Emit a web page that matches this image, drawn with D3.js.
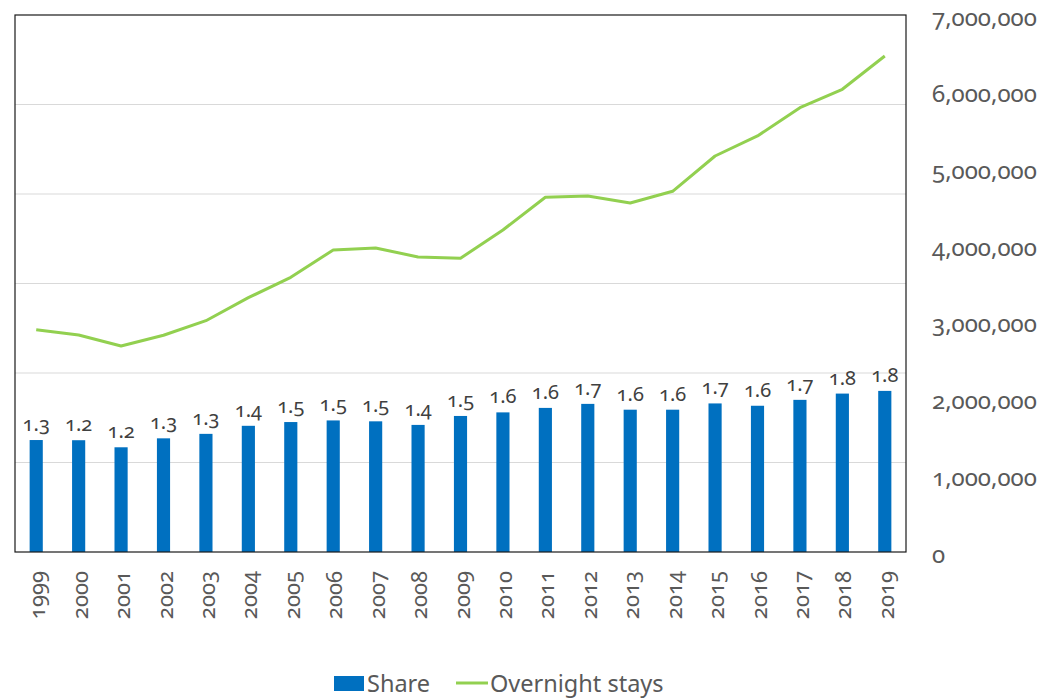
<!DOCTYPE html>
<html>
<head>
<meta charset="utf-8">
<script src="https://cdn.jsdelivr.net/npm/d3@7"></script>
<style>
  html, body { margin: 0; padding: 0; background: #fff; }
  svg { display: block; }
  text { font-family: "Noto Sans", "Open Sans", sans-serif; font-variant-numeric: oldstyle-nums; }
</style>
</head>
<body>
<svg id="chart" width="1047" height="700"></svg>
<script>
const years = ["1999","2000","2001","2002","2003","2004","2005","2006","2007","2008","2009","2010","2011","2012","2013","2014","2015","2016","2017","2018","2019"];
const share = [1.251, 1.249, 1.17, 1.27, 1.32, 1.41, 1.452, 1.47, 1.46, 1.42, 1.52, 1.56, 1.61, 1.655, 1.59, 1.59, 1.66, 1.634, 1.70, 1.77, 1.80];
const overnightStays = [2898000, 2829000, 2685000, 2825000, 3015000, 3315000, 3581000, 3937000, 3963000, 3846000, 3829000, 4198000, 4624000, 4641000, 4550000, 4702000, 5162000, 5423000, 5792000, 6032000, 6466000];
const rightTicks = [0, 1000000, 2000000, 3000000, 4000000, 5000000, 6000000, 7000000];
const leftGrid = [1, 2, 3, 4, 5];
const legendItems = ["Share", "Overnight stays"];

const svg = d3.select("#chart");
const L = 15, R = 906, T = 15, B = 552;

const x = d3.scaleBand().domain(years).range([L, R]).paddingInner(0.69).paddingOuter(0.345);
const yL = d3.scaleLinear().domain([0, 6]).range([B, T]);
const yR = d3.scaleLinear().domain([0, 7000000]).range([B, T]);
const cx = d => x(d) + x.bandwidth() / 2;

// gridlines
svg.append("g").selectAll("line").data(leftGrid).join("line")
  .attr("x1", L).attr("x2", R)
  .attr("y1", d => yL(d)).attr("y2", d => yL(d))
  .attr("stroke", "#d9d9d9").attr("stroke-width", 1);

// bars
svg.append("g").selectAll("rect").data(years).join("rect")
  .attr("x", d => x(d)).attr("width", x.bandwidth())
  .attr("y", (d, i) => yL(share[i]))
  .attr("height", (d, i) => B - yL(share[i]))
  .attr("fill", "#0070C0");

// bar labels
const fmt = d3.format(".1f");
svg.append("g").selectAll("text").data(years).join("text")
  .attr("x", d => cx(d))
  .attr("y", (d, i) => yL(share[i]) - 9)
  .attr("text-anchor", "middle")
  .attr("font-size", 20)
  .attr("fill", "#404040")
  .text((d, i) => fmt(share[i]));

// line
const line = d3.line().x((d, i) => cx(years[i])).y(d => yR(d));
svg.append("path").datum(overnightStays)
  .attr("d", line)
  .attr("fill", "none")
  .attr("stroke", "#92D050")
  .attr("stroke-width", 3)
  .attr("stroke-linejoin", "round");

// plot border
svg.append("rect")
  .attr("x", L).attr("y", T).attr("width", R - L).attr("height", B - T)
  .attr("fill", "none").attr("stroke", "#1a1a1a").attr("stroke-width", 1.2);

// right axis
const rAxis = svg.append("g").attr("transform", `translate(${R},0)`)
  .call(d3.axisRight(yR).tickValues(rightTicks).tickFormat(d3.format(",")).tickSize(0).tickPadding(26));
rAxis.select(".domain").remove();
rAxis.selectAll("text")
  .attr("font-size", 24)
  .attr("fill", "#595959")
  .attr("dy", "0.42em")
  .style("font-family", "\"Noto Sans\", \"Open Sans\", sans-serif");

// x labels
svg.append("g").selectAll("text").data(years).join("text")
  .attr("transform", d => `translate(${cx(d)},571) rotate(-90)`)
  .attr("text-anchor", "end")
  .attr("dy", 9)
  .attr("font-size", 22)
  .attr("fill", "#595959")
  .text(d => d);

// legend
const lg = svg.append("g");
lg.append("rect").attr("x", 334).attr("y", 676).attr("width", 30).attr("height", 15).attr("fill", "#0070C0");
lg.append("text").attr("x", 367).attr("y", 691.5).attr("font-size", 23.5).attr("fill", "#595959").text(legendItems[0]);
lg.append("line").attr("x1", 456).attr("x2", 488).attr("y1", 683).attr("y2", 683).attr("stroke", "#92D050").attr("stroke-width", 3);
lg.append("text").attr("x", 490).attr("y", 691.5).attr("font-size", 23.5).attr("fill", "#595959").text(legendItems[1]);
</script>
</body>
</html>
